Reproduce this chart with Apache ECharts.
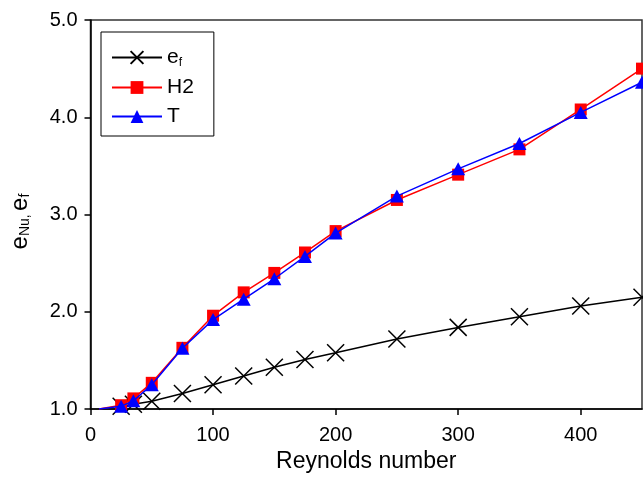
<!DOCTYPE html>
<html>
<head>
<meta charset="utf-8">
<script src="https://cdn.jsdelivr.net/npm/echarts@6/dist/echarts.min.js"></script>
<style>
  html, body { margin: 0; padding: 0; background: #fff; }
  #main { width: 643px; height: 478px; }
</style>
</head>
<body>
<div id="main"></div>
<script>
// Reynolds numbers where markers sit
var reynolds = [25, 35, 50, 75, 100, 125, 150, 175, 200, 250, 300, 350, 400, 450];
var efVals = [1.03, 1.05, 1.08, 1.16, 1.25, 1.34, 1.43, 1.51, 1.58, 1.72, 1.84, 1.95, 2.06, 2.15];
var h2Vals = [1.04, 1.11, 1.27, 1.63, 1.96, 2.20, 2.40, 2.61, 2.83, 3.15, 3.41, 3.67, 4.08, 4.50];
var tVals  = [1.03, 1.085, 1.25, 1.625, 1.92, 2.13, 2.34, 2.57, 2.81, 3.19, 3.47, 3.73, 4.05, 4.36];
// lines start at e = 1 without a marker
var efStart = [20, 1.0];
var nuStart = [7, 1.0];
var xTicks = [0, 100, 200, 300, 400];
var yTicks = [1.0, 2.0, 3.0, 4.0, 5.0];

function pairs(start, xs, ys) {
    var out = [{ value: start, symbol: 'none' }];
    for (var i = 0; i < xs.length; i++) {
        out.push([xs[i], ys[i]]);
    }
    return out;
}

var font = 'Liberation Sans, Arial, sans-serif';
var crossPath = 'path://M0,0L10,10M10,0L0,10';

var myChart = echarts.init(document.getElementById('main'));

var option = {
    animation: false,
    backgroundColor: '#fff',
    grid: {
        left: 85, top: 20, right: 1, bottom: 68,
        show: true,
        borderColor: '#333',
        borderWidth: 1.5
    },
    legend: {
        left: 101, top: 32,
        orient: 'vertical',
        padding: [15, 20, 9, 10],
        itemGap: 8,
        itemWidth: 50,
        itemHeight: 16,
        borderColor: '#000',
        borderWidth: 1,
        data: ['ef', 'H2', 'T'],
        formatter: function (name) {
            return name === 'ef' ? '{m|e}{s|f}' : '{m|' + name + '}';
        },
        textStyle: {
            fontFamily: font,
            color: '#000',
            rich: {
                m: { fontSize: 21, fontFamily: font, color: '#000' },
                s: { fontSize: 12, fontFamily: font, color: '#000', padding: [11, 0, 0, 0] }
            }
        }
    },
    xAxis: {
        type: 'value',
        min: 0, max: 450, interval: 100,
        name: 'Reynolds number',
        nameLocation: 'middle',
        nameGap: 31,
        nameTextStyle: { fontFamily: font, fontSize: 23, color: '#000' },
        axisLine: { lineStyle: { color: '#000', width: 1.5 } },
        axisTick: { show: true, inside: false, length: 6, lineStyle: { color: '#000', width: 1.5 } },
        axisLabel: {
            showMaxLabel: false,
            margin: 16,
            fontFamily: font, fontSize: 20, color: '#000',
            formatter: function (v) { return xTicks.indexOf(v) >= 0 ? String(v) : ''; }
        },
        splitLine: { show: false }
    },
    yAxis: {
        type: 'value',
        min: 1, max: 5, interval: 1,
        name: '{m|e}{s|Nu,} {m|e}{s|f}',
        nameLocation: 'middle',
        nameRotate: 90,
        nameGap: 58,
        nameTextStyle: {
            fontFamily: font, color: '#000',
            padding: [0, 14, 0, 0],
            rich: {
                m: { fontSize: 24, fontFamily: font, color: '#000' },
                s: { fontSize: 14, fontFamily: font, color: '#000', padding: [11, 0, 0, 0] }
            }
        },
        axisLine: { lineStyle: { color: '#000', width: 1.5 } },
        axisTick: { show: true, inside: false, length: 6, lineStyle: { color: '#000', width: 1.5 } },
        axisLabel: {
            margin: 13,
            fontFamily: font, fontSize: 20, color: '#000',
            formatter: function (v) { return yTicks.indexOf(v) >= 0 ? v.toFixed(1) : ''; }
        },
        splitLine: { show: false }
    },
    series: [
        {
            name: 'ef',
            type: 'line',
            data: pairs(efStart, reynolds, efVals),
            symbol: crossPath,
            symbolSize: 17,
            lineStyle: { color: '#000', width: 1.5 },
            itemStyle: { color: '#000', borderColor: '#000', borderWidth: 1.5 },
            z: 3
        },
        {
            name: 'H2',
            type: 'line',
            data: pairs(nuStart, reynolds, h2Vals),
            symbol: 'rect',
            symbolSize: 12,
            lineStyle: { color: '#ff0000', width: 1.5 },
            itemStyle: { color: '#ff0000', borderWidth: 0 },
            z: 4
        },
        {
            name: 'T',
            type: 'line',
            data: pairs(nuStart, reynolds, tVals),
            symbol: 'triangle',
            symbolSize: [14, 13],
            lineStyle: { color: '#0000ff', width: 1.5 },
            itemStyle: { color: '#0000ff', borderWidth: 0 },
            z: 5
        }
    ]
};

myChart.setOption(option);
</script>
</body>
</html>
